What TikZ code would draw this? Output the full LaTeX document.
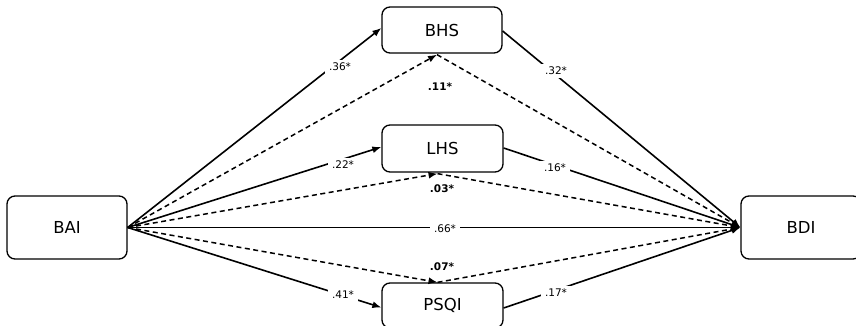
\documentclass[tikz,border=0pt]{standalone}
\usepackage{fontspec}
\setmainfont{DejaVu Sans}
\usetikzlibrary{arrows.meta}
\begin{document}
\begin{tikzpicture}[x=1pt,y=-1pt,
  varbox/.style={draw, line width=1.3pt, rounded corners=8pt, inner sep=0pt, font=\fontsize{16.5}{18}\selectfont},
  path/.style={line width=1.6pt, -{Latex[length=9pt,width=7pt]}},
  indirect/.style={line width=1.5pt, dash pattern=on 5pt off 3.5pt, -{Latex[length=9pt,width=7pt]}},
  coef/.style={fill=white, inner xsep=4pt, inner ysep=3pt, font=\fontsize{10.5}{12}\selectfont},
  bcoef/.style={inner sep=1pt, font=\fontsize{10.5}{12}\selectfont\bfseries}]
\useasboundingbox (0,0) rectangle (856,326);
% boxes
\node[varbox, minimum width=120pt, minimum height=63pt] (bai) at (67,227.5) {BAI};
\node[varbox, minimum width=120pt, minimum height=63pt] (bdi) at (801,227.5) {BDI};
\node[varbox, minimum width=120pt, minimum height=46pt] (bhs) at (442,30) {BHS};
\node[varbox, minimum width=121pt, minimum height=47pt] (lhs) at (442.5,148.5) {LHS};
\node[varbox, minimum width=121pt, minimum height=45pt] (psqi) at (442.5,305.5) {PSQI};
% dashed indirect paths
\draw[indirect] (bai.east) -- ([xshift=-5pt,yshift=-1pt]bhs.south);
\draw[indirect] ([xshift=-5pt,yshift=-1pt]bhs.south) -- (bdi.west);
\draw[indirect] (bai.east) -- ([xshift=-5pt,yshift=-1pt]lhs.south);
\draw[indirect] ([xshift=-5pt,yshift=-1pt]lhs.south) -- (bdi.west);
\draw[indirect] (bai.east) -- ([xshift=-5pt]psqi.north);
\draw[indirect] ([xshift=-5pt]psqi.north) -- (bdi.west);
% solid direct paths
\draw[path] (bai.east) -- ([yshift=2pt]bhs.west);
\draw[path] ([yshift=-1pt]bhs.east) -- (bdi.west);
\draw[path] (bai.east) -- ([yshift=1.5pt]lhs.west);
\draw[path] ([yshift=0.5pt]lhs.east) -- (bdi.west);
\draw[path] (bai.east) -- ([yshift=-2pt]psqi.west);
\draw[path] ([yshift=-2.5pt]psqi.east) -- (bdi.west);
\draw[path] (bai.east) -- (bdi.west);
% coefficients
\node[coef] (c36) at (340,67) {.36*};
\node[coef] (c32) at (556,71) {.32*};
\node[coef] (c22) at (343,165) {.22*};
\node[coef] (c16) at (555,168) {.16*};
\node[coef] (c66) at (445,229) {.66*};
\node[coef] (c41) at (343,295) {.41*};
\node[coef] (c17) at (556,293) {.17*};
\node[bcoef] (c11) at (440,87) {.11*};
\node[bcoef] (c03) at (442,189) {.03*};
\node[bcoef] (c07) at (442,267) {.07*};
\end{tikzpicture}
\end{document}
